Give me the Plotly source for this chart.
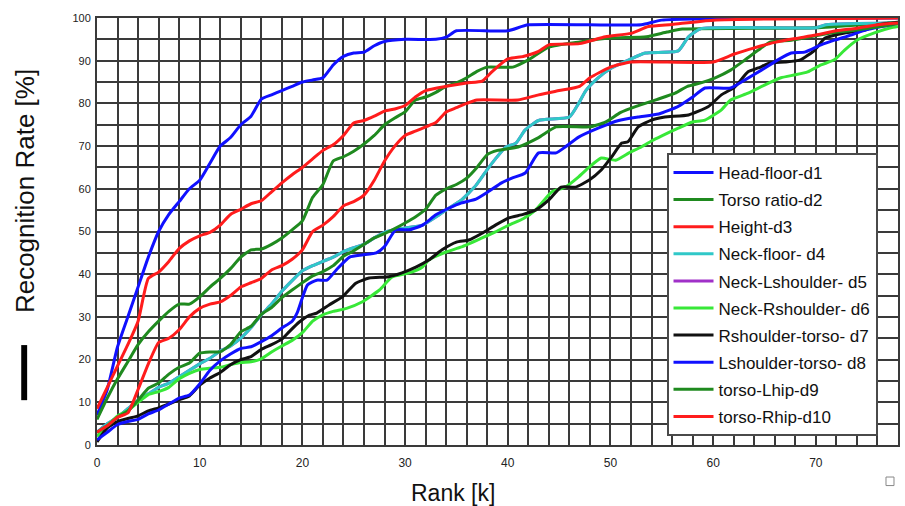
import plotly.graph_objects as go

# ---------------- data ----------------
d1_x = [0,1,2,3,4,5,6,7,8,9,10,11,12,13,14,15,16,17,18,19,20,21,22,23,24,25,26,27,28,30,33,34,35,40,42,53,55,78]
d1_y = [7,13,23,30,37,44,50,54,57,60,62,66,70,72,75,77,81,82,83,84,85,85.5,86,89,91,91.8,92,93.5,94.5,95,95,95.5,97,97,98.4,98.4,99.5,100]

d2_x = [0,1,2,3,4,5,6,7,8,9,10,11,12,13,14,15,16,17,18,19,20,21,22,23,24,25,26,27,28,29,30,31,32,33,34,35,36,37,38,40.5,42,44,47,50,53.5,55.5,57,70,75,78]
d2_y = [6,11,15.5,19.5,23.5,26.5,29,31.3,33,33,34.7,37,39,41.3,44,45.7,45.9,47,48.5,50.4,52.5,58,61,66.5,67.5,68.8,70.5,72.5,75,76.6,78,80.8,81.5,82.6,84,84.8,86,87.5,88.5,88.5,90.2,93.2,94.4,95.3,95.6,96.7,97.4,97.7,98.5,99]

d3_x = [0,1,2,3,4,5,6,7,8,9,10,11,12,13,14,15,16,17,18,19,20,21,22,23,24,25,26,27,28,29,30,31,32,34,36,37.5,38.5,40,41.5,43,44,47,49.5,52,53.7,56,60,78]
d3_y = [8.5,13.5,18.5,23.5,29,39,40.5,43,46,47.8,49,49.8,51.5,54,55.2,56.5,57.2,59.3,61.4,63.3,65,67,69,70.3,72.5,75.4,76,77,78.2,78.7,79.5,81.5,83,84,84.8,85.2,87.5,90.4,91,92.2,93.7,94,95.6,96.4,98,98.5,99.5,100]

d4_x = [0,1,2,3,4,5,6,7,8,9,10,11,12,13,14,15,16,17,18,19,20,21,22,23,24,25,26,27,28,29,30,31.7,33,34.3,35.5,36.9,38,38.8,39.8,40.8,41.7,43,46,46.9,47.6,48.8,50.1,51.8,53.4,56.6,57.6,58.8,70,71,78]
d4_y = [3,5,6.5,8.5,10.5,12,13.5,14.5,16,17.5,19,20.3,22,23.2,25,27.5,30.5,33,36,38.5,40.8,42,43,44,45.3,46.2,47,48.5,49.8,50.4,50.8,51.5,53.4,55.5,57.4,60.8,64.5,67,69.8,70.7,73.8,76,76.8,80,83,86,88.3,90.2,91.8,92.3,95.6,97.5,97.7,98.4,98.8]

# Neck-Lshoulder (d5) is not visible in the reference: it lies hidden under Neck-floor (d4)
d5_x = d4_x
d5_y = d4_y

d6_x = [0,1,2,3,4,5,6,7,8,9,10,11,12,13,14,15,16,17,18,19,20,21,22,23,24.3,25.8,27.5,28.7,30.4,31.7,32.3,34,35.5,37.5,38.8,40.1,41.5,42.7,44.3,45.6,46.9,47.9,49.1,50.5,51.8,53,54,55,56.6,57.9,59.2,60.8,61.7,63.4,65,66.6,68,69.2,70.5,71.8,72.8,74,75.7,77.3,78]
d6_y = [2,4.5,6.8,8,10,11.8,12.5,13.5,15.5,16.8,17.7,18,18.2,18.8,19.3,19.5,20.2,21.8,23.2,24.5,26.3,29,30.5,31.3,32,33.5,36.3,39.3,40.3,41.7,43.3,45.2,46.4,48.5,49.9,51.5,53,55,59.3,60.4,62.8,65,67.2,66.7,68.4,69.8,71.2,72.4,74.2,75.6,76.1,78.5,80.8,82.4,84.3,86,86.7,87.4,89,90.2,92.5,94.8,96.5,97.7,98]

d7_x = [0,1,2,3,4,5,6,7,8,9,10,11,12,13,14,15,16,17,18,18.7,19.7,20.7,21.4,22.6,23.9,25.2,26.5,28.4,29.7,31.1,32.3,33.6,35,36.2,37.5,38.8,40.1,41.5,42.7,44,45.2,46.6,47.9,49.1,50.1,51.1,51.7,52.7,54,55.3,57.6,59.5,60.8,62.1,63.4,64.4,65.6,67,68.5,69.9,70.9,72.8,74.8,76,77.3,78]
d7_y = [0.7,4,5.5,6.2,6.8,8,8.7,9.6,10.6,11.5,14,15.7,17,18.8,20,20.7,22.4,23.5,24.8,26.5,28.8,30.4,30.9,32.8,34.7,37.9,39.1,39.4,40.3,41.7,43.3,45.7,47.5,48,49.6,51.5,53.2,54,55,57.4,60.4,60.4,62,64.4,67.4,70.7,71,74.5,76.1,76.8,77.3,79.2,82,83.8,87.4,88.3,89.5,89.7,90.2,92.5,95.3,96.5,97.2,98.4,98.8,99]

d8_x = [0,1,2,3,4,5,6,7,8,9,10,11,12,13,14,15,16,17,18,19,19.5,20,20.5,21.4,22.4,23.3,24.6,25.8,27.2,28,29.1,30.4,31.7,33,34.3,35.5,36.9,38.2,39.4,40.4,41.7,43,44.7,45.6,46.9,48.8,50.8,52.7,54.7,56.6,57.9,59.2,61.7,63.1,64.7,66.3,67.6,68.9,70.5,71.8,73.4,74.8,77.3,78]
d8_y = [1.2,3,4.8,5.5,6,7.3,8.2,9.6,11,11.7,14.3,17.5,19.7,21.3,22.6,23,24.2,25.6,27.4,29,31,34.5,37.5,38.6,38.6,41,44,44.5,45,46.5,50.4,50.4,51.5,53.9,55.5,56.7,57.6,59.5,61.4,62.5,63.7,68.4,68.4,69.8,72.1,74.2,76,76.8,77.5,79.3,81.3,83.6,83.6,85.5,87.8,90.2,91.8,92,93.7,94.8,96,97.2,98.4,98.8]

d9_x = [0,1,2,3,4,5,6,7,8,9,10,11,12,13,14,15,16,17,18,19,20,21,22,23,24,25,26,27,28,29,30,31,32,33,34,35,36,37,38,39,41,43,44.7,48,49.5,51,52.5,54.5,56.3,57.5,58.8,60.2,61.7,63,64.4,65.6,67.6,69.5,71.5,74,77.3,78]
d9_y = [3,4.5,6.5,8,10.5,13.3,14.5,16.6,18.2,19.2,21.5,21.8,21.8,23.5,26.5,27.8,30.6,32.2,34.5,36.3,38,39.6,40.6,42,44.2,45.5,47,48.5,49.5,50.7,52,53.4,55.2,58.5,60,61,62.5,65,68,69,69.8,72,74.5,74.5,75.6,77.9,79.3,80.9,82.4,84,84.8,86,87.8,90,92.5,94.4,94.8,95.6,96.5,97.2,98.4,98.7]

d10_x = [0,1,2,3,4,5,6,7,8,9,10,11,12,13,14,15,16,17,18,19,20,21,22,23,24,25,26,27,28,29,30,31,32,33,34,35,36,37,41,43,45,47,48,50,52,60,62,64,66,68,70,72,74,76,78]
d10_y = [3,4.5,6.5,7.5,13,19,24,25,27,30,32,33,33.5,35,37,38,39,41,42,43.5,45.7,50,51.5,53.5,56,57,58.5,62,66.5,70,72.5,73.5,74.5,75.5,78,79,80,80.8,80.8,82,83,84,86,88.5,89.7,89.7,91.5,93,94.3,95.2,96,97,97.6,98.4,98.8]

names = ["Head-floor-d1", "Torso ratio-d2", "Height-d3", "Neck-floor- d4",
         "Neck-Lshoulder- d5", "Neck-Rshoulder- d6", "Rshoulder-torso- d7",
         "Lshoulder-torso- d8", "torso-Lhip-d9", "torso-Rhip-d10"]
series_x = [d1_x, d2_x, d3_x, d4_x, d5_x, d6_x, d7_x, d8_x, d9_x, d10_x]
series_y = [d1_y, d2_y, d3_y, d4_y, d5_y, d6_y, d7_y, d8_y, d9_y, d10_y]
colors = ["#1010ff", "#1f8a1f", "#ff1c1c", "#30c8c8", "#a030c8",
          "#38e838", "#111111", "#1010ff", "#1f8a1f", "#ff1c1c"]

x_ticks = [0, 10, 20, 30, 40, 50, 60, 70]
y_ticks = [0, 10, 20, 30, 40, 50, 60, 70, 80, 90, 100]

# draw order: hidden d5 first, then the rest
order = [4, 0, 1, 2, 3, 5, 6, 7, 8, 9]

fig = go.Figure()
for i in order:
    fig.add_trace(go.Scatter(
        x=series_x[i], y=series_y[i], mode="lines", name=names[i],
        legendgroup="g%d" % i, legendrank=i + 1,
        line=dict(color=colors[i], width=3, shape="spline", smoothing=0.5),
    ))

grid_col = "#3a3a3a"
fig.update_layout(
    width=905, height=506,
    margin=dict(l=97, r=5, t=18, b=61),
    paper_bgcolor="white", plot_bgcolor="white",
    font=dict(family="Liberation Sans, Arial, sans-serif", color="#111"),
    showlegend=True,
    legend=dict(
        x=0.711, y=0.684, xanchor="left", yanchor="top",
        bgcolor="white", bordercolor="#4a4a4a", borderwidth=2,
        font=dict(size=17, color="#111"),
        tracegroupgap=2, itemwidth=40,
        entrywidth=200, entrywidthmode="pixels",
    ),
    xaxis=dict(
        range=[0, 78], tickmode="array", tickvals=x_ticks,
        showgrid=True, gridcolor=grid_col, gridwidth=2,
        minor=dict(dtick=2, showgrid=True, gridcolor=grid_col, gridwidth=2),
        showline=True, linecolor=grid_col, linewidth=2, mirror=True,
        zeroline=False, ticks="", ticklabelstandoff=6,
        tickfont=dict(size=12, family="Liberation Sans Narrow, Liberation Sans, Arial", color="#222"),
    ),
    yaxis=dict(
        range=[0, 100], tickmode="array", tickvals=y_ticks,
        showgrid=True, gridcolor=grid_col, gridwidth=2,
        minor=dict(dtick=5, showgrid=True, gridcolor=grid_col, gridwidth=2),
        showline=True, linecolor=grid_col, linewidth=2, mirror=True,
        zeroline=False, ticks="", ticklabelstandoff=2,
        tickfont=dict(size=11, family="Liberation Sans Narrow, Liberation Sans, Arial", color="#222"),
    ),
    annotations=[
        dict(text="Recognition Rate [%]", xref="paper", yref="paper",
             x=-0.0897, y=0.595, textangle=-90, showarrow=False,
             font=dict(size=26, color="#111"), xanchor="center", yanchor="middle"),
        dict(text="Rank [k]", xref="paper", yref="paper",
             x=0.445, y=-0.112, showarrow=False,
             font=dict(size=23, color="#111"), xanchor="center", yanchor="middle"),
    ],
    shapes=[
        dict(type="rect", xref="paper", yref="paper",
             x0=-0.0946, x1=-0.0872, y0=0.105, y1=0.234,
             fillcolor="black", line=dict(width=0)),
        dict(type="rect", xref="paper", yref="paper",
             x0=0.985, x1=0.995, y0=-0.095, y1=-0.075,
             fillcolor="white", line=dict(color="#888", width=1)),
    ],
)

fig.write_html("out.html")
